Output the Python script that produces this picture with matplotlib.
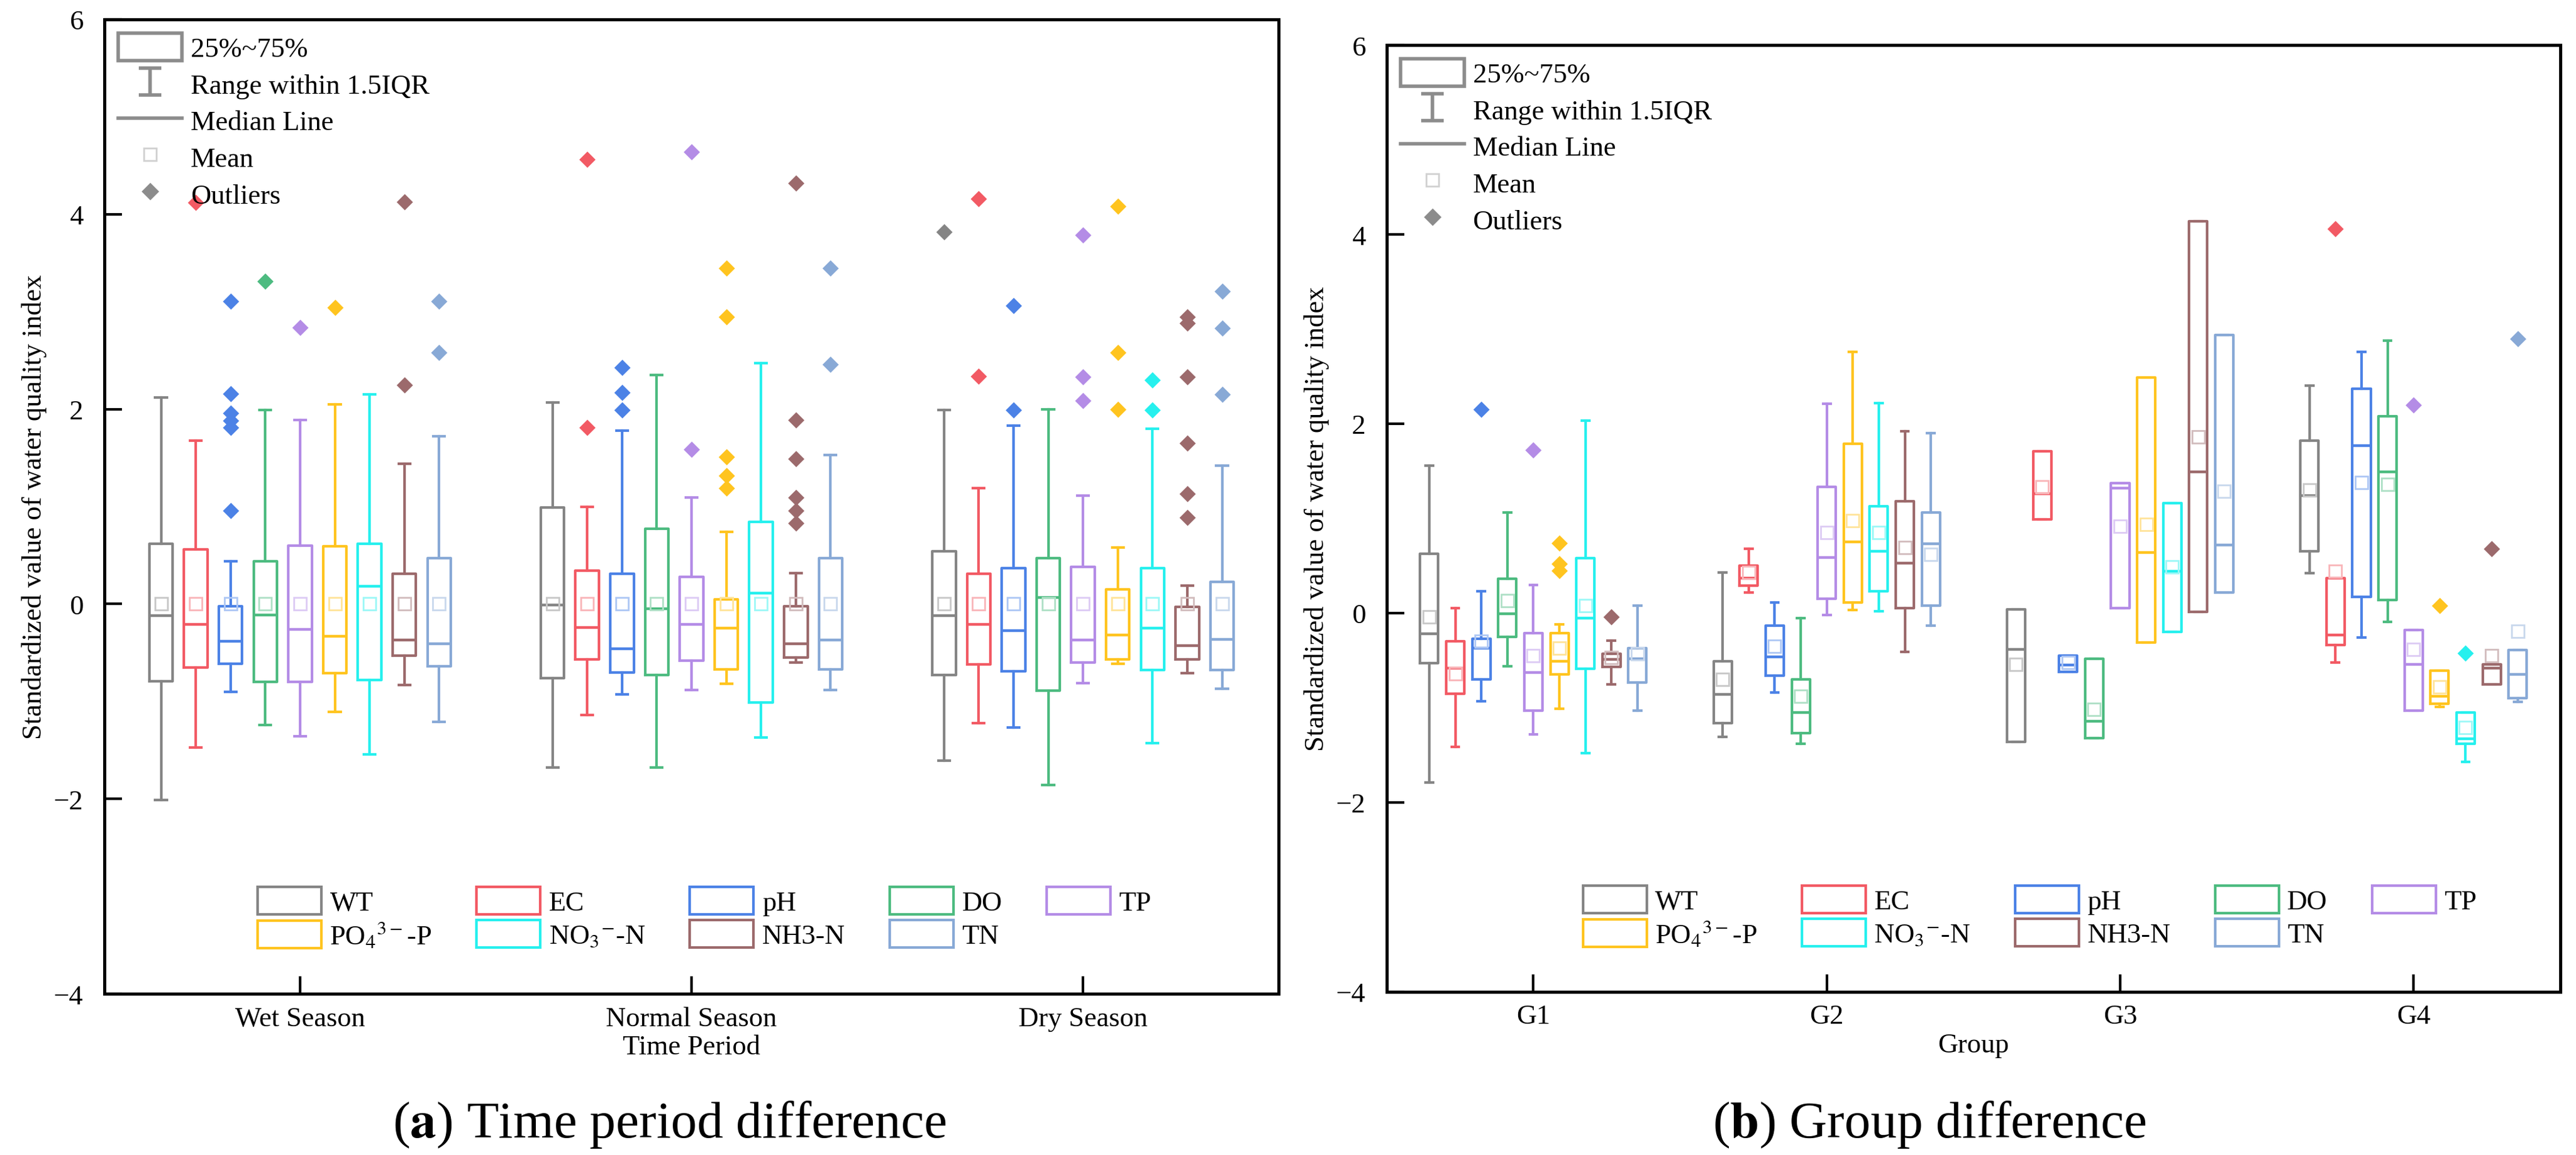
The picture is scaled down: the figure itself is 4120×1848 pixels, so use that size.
import numpy as np
import matplotlib
matplotlib.use("Agg")
import matplotlib.pyplot as plt
from matplotlib.patches import Patch
from matplotlib.lines import Line2D
from matplotlib.colors import to_rgb
from matplotlib.legend_handler import HandlerErrorbar
from matplotlib.container import ErrorbarContainer

plt.rcParams['font.family'] = ['Liberation Serif', 'DejaVu Serif']
plt.rcParams['mathtext.fontset'] = 'stix'

# ---------------- data ----------------
variables = ['WT', 'EC', 'pH', 'DO', 'TP', 'PO4', 'NO3', 'NH3', 'TN']
var_labels = ['WT', 'EC', 'pH', 'DO', 'TP', r'PO$_4$$^{3-}$-P', r'NO$_3$$^{-}$-N', 'NH3-N', 'TN']
colors = ['#858585', '#F25A64', '#4C82E6', '#4DBB80', '#B48CE6',
          '#FFC41F', '#26F0EE', '#9C6A6C', '#88A9D6']

seasons = ['Wet Season', 'Normal Season', 'Dry Season']
# rows: Wet, Normal, Dry ; columns: WT, EC, pH, DO, TP, PO4, NO3, NH3, TN
season_whislo = [[-2.01, -1.47, -0.90, -1.24, -1.36, -1.11, -1.54, -0.83, -1.21],
                 [-1.68, -1.14, -0.93, -1.68, -0.88, -0.82, -1.37, -0.60, -0.88],
                 [-1.61, -1.22, -1.27, -1.86, -0.81, -0.61, -1.43, -0.71, -0.87]]
season_q1 = [[-0.79, -0.65, -0.61, -0.80, -0.80, -0.71, -0.78, -0.53, -0.64],
             [-0.76, -0.57, -0.70, -0.73, -0.58, -0.67, -1.01, -0.55, -0.67],
             [-0.73, -0.62, -0.69, -0.89, -0.60, -0.57, -0.68, -0.57, -0.68]]
season_med = [[-0.12, -0.21, -0.38, -0.11, -0.26, -0.33, 0.18, -0.37, -0.41],
              [-0.01, -0.24, -0.46, -0.05, -0.21, -0.25, 0.11, -0.41, -0.37],
              [-0.12, -0.21, -0.27, 0.07, -0.37, -0.32, -0.25, -0.43, -0.36]]
season_q3 = [[0.62, 0.56, -0.02, 0.44, 0.60, 0.59, 0.62, 0.31, 0.47],
             [0.99, 0.34, 0.31, 0.77, 0.28, 0.05, 0.84, -0.02, 0.47],
             [0.54, 0.31, 0.37, 0.47, 0.38, 0.15, 0.37, -0.03, 0.23]]
season_whishi = [[2.12, 1.68, 0.44, 1.99, 1.89, 2.05, 2.15, 1.44, 1.72],
                 [2.07, 1.00, 1.78, 2.35, 1.09, 0.74, 2.47, 0.32, 1.53],
                 [1.99, 1.19, 1.83, 2.00, 1.11, 0.58, 1.80, 0.19, 1.42]]
season_mean = [[0, 0, 0, 0, 0, 0, 0, 0, 0],
               [0, 0, 0, 0, 0, 0, 0, 0, 0],
               [0, 0, 0, 0, 0, 0, 0, 0, 0]]
season_fliers = [
    [[], [4.12], [0.96, 1.81, 1.88, 1.96, 2.16, 3.11], [3.31], [2.84], [3.04], [],
     [2.25, 4.13], [2.58, 3.11]],
    [[], [1.81, 4.56], [1.99, 2.17, 2.43], [], [1.59, 4.64], [1.19, 1.32, 1.51, 2.95, 3.45], [],
     [0.83, 0.96, 1.09, 1.49, 1.89, 4.32], [2.46, 3.45]],
    [[3.82], [2.34, 4.16], [1.99, 3.06], [], [2.09, 2.33, 3.79], [2.00, 2.58, 4.08], [1.99, 2.30],
     [0.89, 1.13, 1.65, 2.33, 2.88, 2.95], [2.15, 2.83, 3.21]],
]

groups = ['G1', 'G2', 'G3', 'G4']
group_whislo = [[-1.79, -1.41, -0.93, -0.56, -1.28, -1.01, -1.48, -0.75, -1.03],
                [-1.31, 0.22, -0.84, -1.38, -0.02, 0.03, 0.02, -0.41, -0.13],
                [-1.36, 0.99, -0.62, -1.32, 0.05, -0.31, -0.20, 0.01, 0.22],
                [0.42, -0.52, -0.26, -0.09, -1.03, -0.99, -1.57, -0.75, -0.94]]
group_q1 = [[-0.53, -0.85, -0.70, -0.25, -1.03, -0.65, -0.59, -0.57, -0.73],
            [-1.16, 0.29, -0.66, -1.27, 0.15, 0.11, 0.23, 0.05, 0.08],
            [-1.36, 0.99, -0.62, -1.32, 0.05, -0.31, -0.20, 0.01, 0.22],
            [0.65, -0.34, 0.17, 0.14, -1.03, -0.96, -1.38, -0.75, -0.90]]
group_med = [[-0.22, -0.58, -0.37, -0.01, -0.63, -0.51, -0.05, -0.49, -0.48],
             [-0.86, 0.37, -0.46, -1.05, 0.59, 0.75, 0.65, 0.53, 0.73],
             [-0.38, 1.26, -0.55, -1.14, 1.32, 0.64, 0.44, 1.49, 0.72],
             [1.24, -0.23, 1.77, 1.49, -0.54, -0.88, -1.33, -0.58, -0.65]]
group_q3 = [[0.63, -0.30, -0.27, 0.36, -0.21, -0.21, 0.58, -0.43, -0.37],
            [-0.51, 0.50, -0.13, -0.70, 1.33, 1.79, 1.13, 1.18, 1.06],
            [0.04, 1.71, -0.45, -0.48, 1.37, 2.49, 1.16, 4.14, 2.94],
            [1.82, 0.37, 2.37, 2.08, -0.18, -0.61, -1.05, -0.54, -0.39]]
group_whishi = [[1.56, 0.05, 0.23, 1.06, 0.30, -0.12, 2.03, -0.29, 0.08],
                [0.43, 0.68, 0.11, -0.05, 2.21, 2.76, 2.22, 1.92, 1.90],
                [0.04, 1.71, -0.45, -0.48, 1.37, 2.49, 1.16, 4.14, 2.94],
                [2.40, 0.37, 2.76, 2.88, -0.18, -0.61, -1.05, -0.54, -0.39]]
group_mean = [[-0.04, -0.64, -0.30, 0.13, -0.45, -0.37, 0.08, -0.47, -0.43],
              [-0.70, 0.43, -0.35, -0.88, 0.85, 0.98, 0.85, 0.69, 0.62],
              [-0.54, 1.33, -0.52, -1.02, 0.92, 0.94, 0.49, 1.86, 1.29],
              [1.30, 0.44, 1.38, 1.36, -0.38, -0.78, -1.21, -0.45, -0.19]]
group_fliers = [
    [[], [], [2.15], [], [1.72], [0.45, 0.52, 0.74], [], [-0.04], []],
    [[], [], [], [], [], [], [], [], []],
    [[], [], [], [], [], [], [], [], []],
    [[], [4.06], [], [], [2.20], [0.08], [-0.42], [0.68], [2.90]],
]


def light(c, f=0.45):
    r = to_rgb(c)
    return tuple(1 - (1 - x) * f for x in r)


def draw_panel(ax, cats, whislo, q1, med, q3, whishi, mean, fliers, step, width, capw,
               leg_x):
    nvar = len(variables)
    for j, var in enumerate(variables):
        col = colors[j]
        stats = []
        pos = []
        for g in range(len(cats)):
            stats.append(dict(whislo=whislo[g][j], q1=q1[g][j], med=med[g][j],
                              q3=q3[g][j], whishi=whishi[g][j], mean=mean[g][j],
                              fliers=fliers[g][j]))
            pos.append(g + 1 + (j - (nvar - 1) / 2) * step)
        ax.bxp(stats, positions=pos, widths=width, capwidths=capw,
               showmeans=True, meanline=False, manage_ticks=False,
               boxprops=dict(color=col, linewidth=1.5),
               whiskerprops=dict(color=col, linewidth=1.5),
               capprops=dict(color=col, linewidth=1.5),
               medianprops=dict(color=col, linewidth=1.6),
               meanprops=dict(marker='s', markersize=7, markerfacecolor='none',
                              markeredgecolor=light(col), markeredgewidth=1.0),
               flierprops=dict(marker='D', markersize=6.5, markerfacecolor=col,
                               markeredgecolor='none', linestyle='none'))
    ax.set_xlim(0.5, len(cats) + 0.5)
    ax.set_ylim(-4, 6)
    ax.set_xticks(np.arange(1, len(cats) + 1))
    ax.set_xticklabels(cats)
    ax.set_yticks([-4, -2, 0, 2, 4, 6])
    ax.tick_params(axis='both', direction='in', length=10, width=1.5, labelsize=16)
    ax.tick_params(axis='y', pad=12)
    ax.tick_params(axis='x', pad=7)
    for s in ax.spines.values():
        s.set_linewidth(1.8)
    ax.set_ylabel('Standardized value of water quality index', fontsize=16, labelpad=4)

    # element legend (top-left)
    gray = '#8c8c8c'
    eb = ax.errorbar([np.nan], [np.nan], yerr=[np.nan], fmt='none', ecolor=gray,
                     elinewidth=2, capsize=6.5, capthick=2)
    h_elem = [Patch(facecolor='white', edgecolor=gray, linewidth=2),
              eb,
              Line2D([], [], color=gray, linewidth=2),
              Line2D([], [], linestyle='none', marker='s', markersize=7,
                     markerfacecolor='none', markeredgecolor=light(gray, 0.4)),
              Line2D([], [], linestyle='none', marker='D', markersize=7,
                     markerfacecolor=gray, markeredgecolor='none')]
    l_elem = ['25%~75%', 'Range within 1.5IQR', 'Median Line', 'Mean', 'Outliers']
    leg1 = ax.legend(h_elem, l_elem, loc='upper left', frameon=False, fontsize=16,
                     handlelength=2.3, handleheight=1.15, labelspacing=0.28,
                     handletextpad=0.3, borderpad=0.5, borderaxespad=0.0,
                     handler_map={ErrorbarContainer: HandlerErrorbar(xerr_size=0.3,
                                                                     yerr_size=0.48)})
    ax.add_artist(leg1)

    # variable legend (bottom)
    order = [0, 5, 1, 6, 2, 7, 3, 8, 4]
    h_var = [Patch(facecolor='white', edgecolor=colors[k], linewidth=1.5) for k in order]
    l_var = [var_labels[k] for k in order]
    ax.legend(h_var, l_var, loc='lower center', bbox_to_anchor=(leg_x, 0.02), ncol=5,
              frameon=False, fontsize=16, handlelength=2.3, handleheight=1.15,
              labelspacing=0.15, handletextpad=0.3, columnspacing=1.6)


fig = plt.figure(figsize=(20.6, 9.245), dpi=200)
ax1 = fig.add_axes([0.0405, 0.1395, 0.4559, 0.8432])
ax2 = fig.add_axes([0.5383, 0.1412, 0.4556, 0.8193])

draw_panel(ax1, seasons, season_whislo, season_q1, season_med, season_q3,
           season_whishi, season_mean, season_fliers, step=0.0888, width=0.06, capw=0.029,
           leg_x=0.511)
draw_panel(ax2, groups, group_whislo, group_q1, group_med, group_q3,
           group_whishi, group_mean, group_fliers, step=0.0887, width=0.062, capw=0.025,
           leg_x=0.548)

ax1.set_xlabel('Time Period', fontsize=16, labelpad=2)
ax2.set_xlabel('Group', fontsize=16, labelpad=2)

fig.text(0.26, 0.027, r'($\mathbf{a}$) Time period difference', fontsize=30,
         ha='center', va='center')
fig.text(0.749, 0.027, r'($\mathbf{b}$) Group difference', fontsize=30,
         ha='center', va='center')

fig.savefig('out.png', dpi=200)
